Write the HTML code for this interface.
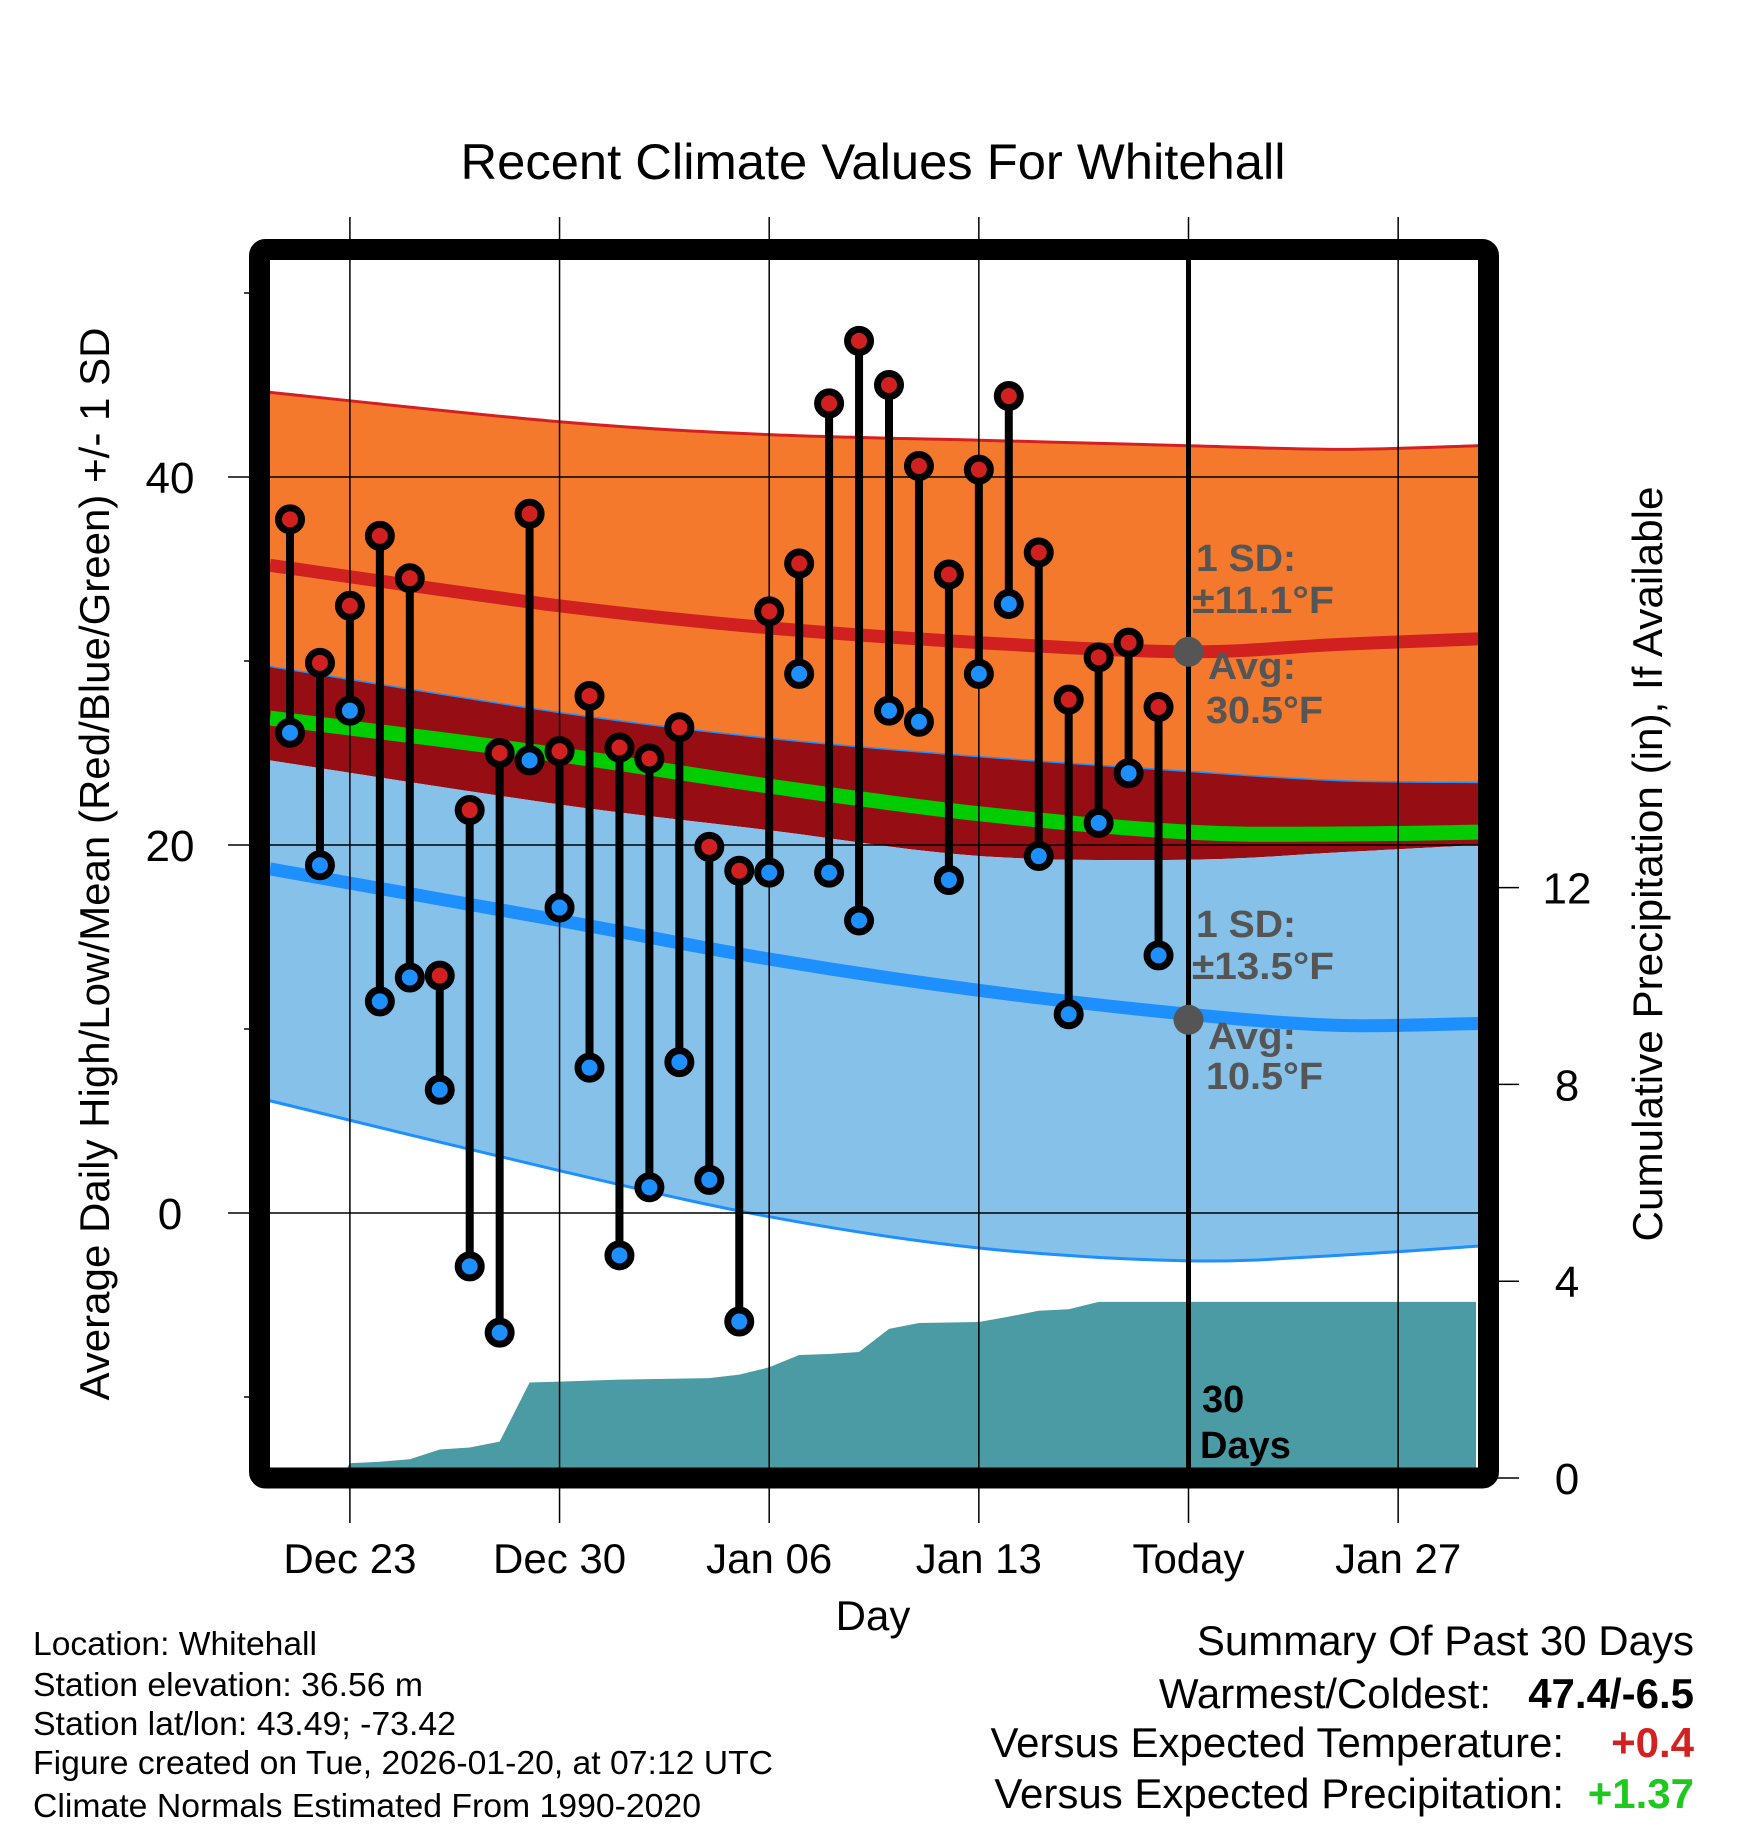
<!DOCTYPE html>
<html><head><meta charset="utf-8"><style>
html,body{margin:0;padding:0;background:#fff;}
svg{display:block;font-family:"Liberation Sans",Arial,sans-serif;}
</style></head><body>
<svg id="chart" width="1748" height="1828" viewBox="0 0 1748 1828" xmlns="http://www.w3.org/2000/svg">
<g id="bands"></g>
<g id="precip"></g>
<g id="grid"></g>
<g id="marks"></g>
<g id="annot"></g>
<g id="axes"></g>
</svg>
<script>
// ---- data ----
const highs=[37.7,29.9,33.0,36.8,34.5,12.9,21.9,25.0,38.0,25.1,28.1,25.3,24.7,26.4,19.9,18.6,32.7,35.3,44.0,47.4,45.0,40.6,34.7,40.4,44.4,35.9,27.9,30.2,31.0,27.5];
const lows=[26.1,18.9,27.3,11.5,12.8,6.7,-2.9,-6.5,24.6,16.6,7.9,-2.3,1.4,8.2,1.8,-5.9,18.5,29.3,18.5,15.9,27.3,26.7,18.1,29.3,33.1,19.4,10.8,21.2,23.9,14.0];
const precipDays=[0,1.7,2,3,4,5,6,7,8,9,10,11,12,13,14,15,16,17,18,19,20,21,22,23,24,25,26,27,28,29,39.6];
const precipCum=[0,0,0.3,0.33,0.38,0.58,0.62,0.74,1.94,1.96,1.98,2.0,2.01,2.02,2.03,2.1,2.25,2.5,2.52,2.56,3.03,3.15,3.16,3.17,3.28,3.4,3.43,3.58,3.58,3.58,3.58];
const normDays=[-0.67,9,16,23,30,35,39.67];
const normUpper=[44.6,43.0,42.3,42.0,41.7,41.5,41.7];
const normHigh=[35.2,33.0,31.8,31.0,30.5,30.9,31.2];
const normHighLo=[29.7,27.2,25.8,24.8,24.0,23.5,23.4];
const normMean=[26.9,24.9,23.2,21.7,20.7,20.6,20.7];
const normLowHi=[24.6,22.2,20.8,19.4,19.2,19.6,20.0];
const normLow=[18.7,15.9,13.8,12.1,10.8,10.2,10.3];
const normLower=[6.1,2.3,-0.2,-1.9,-2.6,-2.3,-1.8];
const xTickDays=[2,9,16,23,30,37];
const xTickLabels=["Dec 23","Dec 30","Jan 06","Jan 13","Today","Jan 27"];
const yTicks=[0,20,40];
const yMinor=[-10,10,30,50];
const pTicks=[0,4,8,12];

// ---- scales ----
const L=270,R=1478,T=260,B=1468;
const x=d=>290+d*29.95;
const y=t=>1213-(t-0)*18.4;
const py=p=>1478-p*49.2;
const NS="http://www.w3.org/2000/svg";
function mk(tag,attrs,parent,text){const e=document.createElementNS(NS,tag);for(const k in attrs)e.setAttribute(k,attrs[k]);if(text!==undefined)e.textContent=text;parent.appendChild(e);return e;}
const G=id=>document.getElementById(id);

const defs=mk('defs',{},G('chart'));
const cp=mk('clipPath',{id:'pc'},defs);mk('rect',{x:L,y:T,width:R-L,height:B-T},cp);
['bands','precip'].forEach(i=>G(i).setAttribute('clip-path','url(#pc)'));

// smooth path through points (Catmull-Rom)
function smoothPts(arr){
  const P=normDays.map((d,i)=>[x(d),y(arr[i])]);
  return P;
}
function crPath(P,start){
  let d=(start?'M':'L')+P[0][0]+','+P[0][1];
  for(let i=0;i<P.length-1;i++){
    const p0=P[i-1]||P[i],p1=P[i],p2=P[i+1],p3=P[i+2]||P[i+1];
    const c1=[p1[0]+(p2[0]-p0[0])/6,p1[1]+(p2[1]-p0[1])/6];
    const c2=[p2[0]-(p3[0]-p1[0])/6,p2[1]-(p3[1]-p1[1])/6];
    d+=' C'+c1[0]+','+c1[1]+' '+c2[0]+','+c2[1]+' '+p2[0]+','+p2[1];
  }
  return d;
}
function band(a,b,fill,name){
  const d=crPath(smoothPts(a),true)+' '+crPath(smoothPts(b).reverse(),false)+'Z';
  const p=mk('path',{d:d,fill:fill},G('bands'));
  
  
}
function line(a,stroke,w,name){
  const p=mk('path',{d:crPath(smoothPts(a),true),fill:'none',stroke:stroke,'stroke-width':w},G('bands'));
  
  
}
band(normUpper,normHighLo,'#f5792c','high-sd-band');
band(normHighLo,normLowHi,'#960e14','overlap-band');
band(normLowHi,normLower,'#85c1e9','low-sd-band');
line(normUpper,'#d42020',3,'high-plus-sd-line');
line(normLower,'#1e8fff',3,'low-minus-sd-line');
line(normHighLo,'#1e8fff',1.5,'high-minus-sd-line');
line(normHigh,'#d02020',13,'avg-high-line');
line(normLow,'#1e8fff',13,'avg-low-line');
line(normMean,'#00cc00',15,'avg-mean-line');

let pd='M'+x(precipDays[0])+','+B+' L'+precipDays.map((dd,i)=>x(dd)+','+py(precipCum[i])).join(' L')+' L'+x(precipDays[precipDays.length-1])+','+B+'Z';
const pa=mk('path',{d:pd,fill:'#4a9ba4'},G('precip'));



xTickDays.forEach((d,i)=>{
  const g=mk('line',{x1:x(d),x2:x(d),y1:217,y2:1523,stroke:'#000','stroke-width':1.5},G('grid'));
  
  
  const t=mk('text',{x:x(d),y:1573,'font-size':42,'text-anchor':'middle'},G('axes'),xTickLabels[i]);
  
  
});
yTicks.forEach(v=>{
  const g=mk('line',{x1:228,x2:R,y1:y(v),y2:y(v),stroke:'#000','stroke-width':1.5},G('grid'));
  
  
  const t=mk('text',{x:170,y:y(v)+16,'font-size':44,'text-anchor':'middle'},G('axes'),String(v));
  
  
});
yMinor.forEach(v=>{
  const g=mk('line',{x1:244,x2:260,y1:y(v),y2:y(v),stroke:'#000','stroke-width':1.5},G('axes'));
  
  
});
pTicks.forEach(v=>{
  const g=mk('line',{x1:1495,x2:1519,y1:py(v),y2:py(v),stroke:'#000','stroke-width':1.5},G('axes'));
  
  
  const t=mk('text',{x:1567,y:py(v)+16,'font-size':44,'text-anchor':'middle'},G('axes'),String(v));
  
  
});

const tl=mk('line',{x1:x(30),x2:x(30),y1:T,y2:B,stroke:'#000','stroke-width':5},G('annot'));



highs.forEach((h,i)=>{
  const lo=lows[i],cx=x(i);
  const s=mk('line',{x1:cx,x2:cx,y1:y(h),y2:y(lo),stroke:'#000','stroke-width':8},G('marks'));
  
  
});
highs.forEach((h,i)=>{
  const cx=x(i);
  const c1=mk('circle',{cx:cx,cy:y(lows[i]),r:11.5,fill:'#1e8fff',stroke:'#000','stroke-width':7},G('marks'));
  
  
  const c2=mk('circle',{cx:cx,cy:y(h),r:11.5,fill:'#d02020',stroke:'#000','stroke-width':7},G('marks'));
  
  
});

[[30.5],[10.5]].forEach(v=>{
  const c=mk('circle',{cx:x(30),cy:y(v[0]),r:15,fill:'#555'},G('annot'));
  
  
});
const A=G('annot');
const ann=[[1196,571,'1 SD:',100],[1192,613,'±11.1°F',142],[1208,679,'Avg:',88],[1206,723,'30.5°F',117],[1196,937,'1 SD:',100],[1192,979,'±13.5°F',142],[1208,1049,'Avg:',88],[1206,1089,'10.5°F',117]];
ann.forEach(a=>{
  const t=mk('text',{x:a[0],y:a[1],'font-size':38,'font-weight':'bold',fill:'#555',textLength:a[3],lengthAdjust:'spacingAndGlyphs'},A,a[2]);
  
  
});
const d1=mk('text',{x:1202,y:1412,'font-size':38,'font-weight':'bold'},A,'30');


const d2=mk('text',{x:1200,y:1458,'font-size':38,'font-weight':'bold'},A,'Days');



const fr=mk('rect',{x:259.5,y:249.5,width:1229,height:1228.5,fill:'none',stroke:'#000','stroke-width':21,rx:6},G('axes'));



const Ax=G('axes');
function txt(attrs,s,name){const t=mk('text',attrs,Ax,s);return t;}
txt({x:873,y:179,'font-size':50,'text-anchor':'middle',textLength:825,lengthAdjust:'spacingAndGlyphs'},'Recent Climate Values For Whitehall','chart-title');
txt({x:873,y:1630,'font-size':42,'text-anchor':'middle'},'Day','x-axis-title');
txt({x:109,y:864,'font-size':42,'text-anchor':'middle',transform:'rotate(-90 109 864)',textLength:1073,lengthAdjust:'spacingAndGlyphs'},'Average Daily High/Low/Mean (Red/Blue/Green) +/- 1 SD','y-axis-title');
txt({x:1662,y:864,'font-size':42,'text-anchor':'middle',transform:'rotate(-90 1662 864)',textLength:755,lengthAdjust:'spacingAndGlyphs'},'Cumulative Precipitation (in), If Available','precip-axis-title');
const info=['Location: Whitehall','Station elevation: 36.56 m','Station lat/lon: 43.49; -73.42','Figure created on Tue, 2026-01-20, at 07:12 UTC','Climate Normals Estimated From 1990-2020'];
const ib=[1655,1696,1735,1774,1817];
const iw=[284,390,423,740,668];
info.forEach((s,i)=>txt({x:33,y:ib[i],'font-size':33,textLength:iw[i],lengthAdjust:'spacingAndGlyphs'},s,'station-info'));
txt({x:1694,y:1655,'font-size':42,'text-anchor':'end'},'Summary Of Past 30 Days','summary-title');
txt({x:1491,y:1708,'font-size':42,'text-anchor':'end'},'Warmest/Coldest:','summary-label');
txt({x:1694,y:1708,'font-size':42,'text-anchor':'end','font-weight':'bold'},'47.4/-6.5','warmest-coldest-value');
txt({x:1564,y:1757,'font-size':42,'text-anchor':'end'},'Versus Expected Temperature:','summary-label');
txt({x:1694,y:1757,'font-size':42,'text-anchor':'end','font-weight':'bold',fill:'#d42020'},'+0.4','temp-departure-value');
txt({x:1564,y:1808,'font-size':42,'text-anchor':'end'},'Versus Expected Precipitation:','summary-label');
txt({x:1694,y:1808,'font-size':42,'text-anchor':'end','font-weight':'bold',fill:'#1ec81e'},'+1.37','precip-departure-value');
</script>
</body></html>
